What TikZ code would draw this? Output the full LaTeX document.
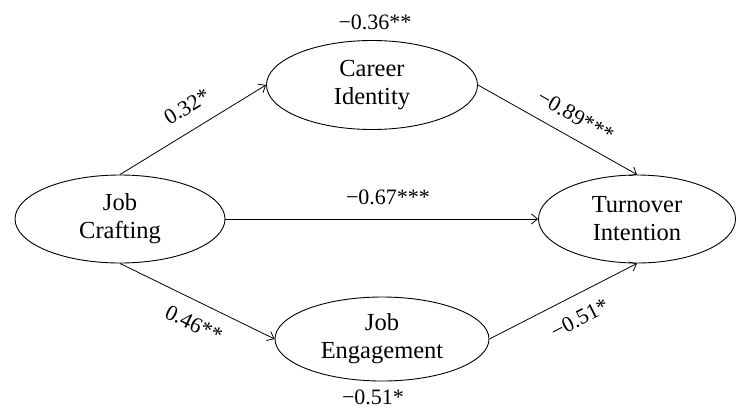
\documentclass[tikz,border=0pt]{standalone}
\usepackage{fontspec}
\setmainfont{Liberation Serif}
\usetikzlibrary{shapes.geometric,arrows.meta}

\tikzset{
  latent/.style={draw, ellipse, line width=0.9pt, inner sep=0pt, align=center,
    font=\fontsize{24.5}{28}\selectfont},
  effect/.style={-{Straight Barb[length=6pt,width=10pt]}, line width=0.8pt},
  coef/.style={font=\fontsize{22}{26}\selectfont, inner sep=2pt},
}

\begin{document}
\begin{tikzpicture}[x=1pt, y=-1pt]
    \useasboundingbox (0,0) rectangle (737,413);

    % latent variables
    \node[latent, minimum width=210pt, minimum height=88pt] (JC) at (120,219) {Job\\Crafting};
    \node[latent, minimum width=211pt, minimum height=89pt] (CI) at (372,85) {Career\\Identity};
    \node[latent, minimum width=214pt, minimum height=84pt] (JE) at (382,339) {Job\\Engagement};
    \node[latent, minimum width=197pt, minimum height=88pt] (TI) at (637,219) {Turnover\\Intention};

    % paths with coefficients
    \draw[effect] (JC.north) -- node[coef, sloped, above=13pt, pos=0.54] {0.32*} (CI.west);
    \draw[effect] (CI.east) -- node[coef, sloped, above=11pt, pos=0.55] {−0.89***} (TI.north);
    \draw[effect] (JC.east) -- node[coef, above=12pt, pos=0.52] {−0.67***} (TI.west);
    \draw[effect] (JC.south) -- node[coef, sloped, below=12pt, pos=0.54] {0.46**} (JE.west);
    \draw[effect] (JE.east) -- node[coef, sloped, below=13pt, pos=0.54] {−0.51*} (TI.south);

    \node[coef] (CIr) at (375,22) {−0.36**};
    \node[coef] (JEr) at (373,397) {−0.51*};
\end{tikzpicture}
\end{document}
